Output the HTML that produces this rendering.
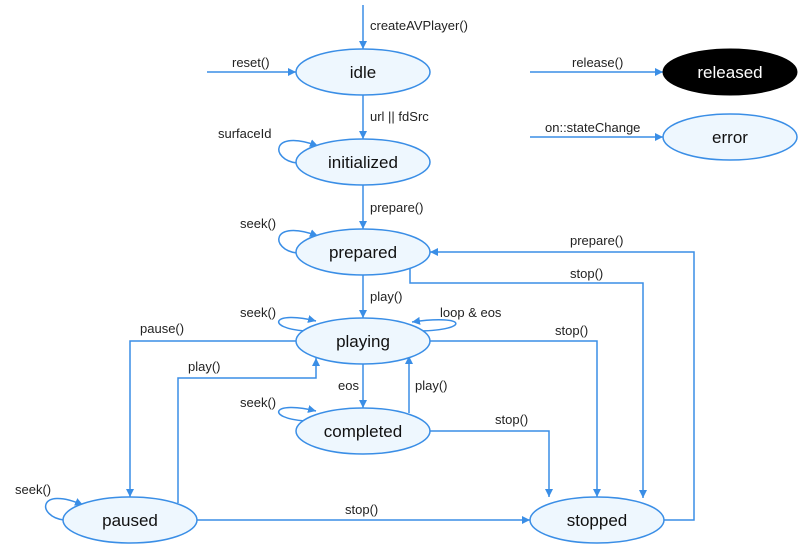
<!DOCTYPE html>
<html><head><meta charset="utf-8"><style>
html,body{margin:0;padding:0;background:#fff;}
svg{display:block;font-family:"Liberation Sans",sans-serif;}
.e{fill:#eef7fe;stroke:#3a8ee6;stroke-width:1.5;}
.l{fill:none;stroke:#3a8ee6;stroke-width:1.5;}
.n{font-size:17px;fill:#111;text-anchor:middle;}
.t{font-size:13px;fill:#222;}
</style></head><body>
<svg width="801" height="551" viewBox="0 0 801 551" xmlns="http://www.w3.org/2000/svg">
<defs><marker id="a" viewBox="0 0 10 10" refX="10" refY="5" markerWidth="8" markerHeight="8" markerUnits="userSpaceOnUse" orient="auto"><path d="M0,0L10,5L0,10z" fill="#3a8ee6"/></marker></defs>
<g class="l" marker-end="url(#a)">
<path d="M363,5V49"/>
<path d="M207,72H296"/>
<path d="M363,95V139"/>
<path d="M297,163C270,160 270,128 318,146"/>
<path d="M363,185V229"/>
<path d="M297,253C270,250 270,218 318,236"/>
<path d="M363,275V318"/>
<path d="M305,331C265,328 272,310 316,321"/>
<path d="M420,331C470,330 468,314 412,322"/>
<path d="M363,364V408"/>
<path d="M409,413V356"/>
<path d="M305,421C265,418 272,400 316,411"/>
<path d="M297,341H130V497"/>
<path d="M178,503V378H316V358"/>
<path d="M64,520C37,517 37,485 83,505"/>
<path d="M197,520H530"/>
<path d="M430,431H549V497"/>
<path d="M430,341H597V497"/>
<path d="M410,268V283H643V498"/>
<path d="M664,520H694V252H430"/>
<path d="M530,72H663"/>
<path d="M530,137H663"/>
</g>
<ellipse class="e" cx="363" cy="72" rx="67" ry="23"/>
<ellipse class="e" cx="363" cy="162" rx="67" ry="23"/>
<ellipse class="e" cx="363" cy="252" rx="67" ry="23"/>
<ellipse class="e" cx="363" cy="341" rx="67" ry="23"/>
<ellipse class="e" cx="363" cy="431" rx="67" ry="23"/>
<ellipse class="e" cx="130" cy="520" rx="67" ry="23"/>
<ellipse class="e" cx="597" cy="520" rx="67" ry="23"/>
<ellipse cx="730" cy="72" rx="67" ry="23" fill="#000" stroke="#000"/>
<ellipse class="e" cx="730" cy="137" rx="67" ry="23"/>
<text class="n" x="363" y="78">idle</text>
<text class="n" x="363" y="168">initialized</text>
<text class="n" x="363" y="258">prepared</text>
<text class="n" x="363" y="347">playing</text>
<text class="n" x="363" y="437">completed</text>
<text class="n" x="130" y="526">paused</text>
<text class="n" x="597" y="526">stopped</text>
<text class="n" x="730" y="78" style="fill:#fff">released</text>
<text class="n" x="730" y="143">error</text>
<text class="t" x="370" y="30">createAVPlayer()</text>
<text class="t" x="232" y="67">reset()</text>
<text class="t" x="370" y="121">url || fdSrc</text>
<text class="t" x="218" y="138">surfaceId</text>
<text class="t" x="370" y="212">prepare()</text>
<text class="t" x="240" y="228">seek()</text>
<text class="t" x="370" y="301">play()</text>
<text class="t" x="240" y="317">seek()</text>
<text class="t" x="440" y="317">loop &amp; eos</text>
<text class="t" x="140" y="333">pause()</text>
<text class="t" x="188" y="371">play()</text>
<text class="t" x="338" y="390">eos</text>
<text class="t" x="415" y="390">play()</text>
<text class="t" x="240" y="407">seek()</text>
<text class="t" x="495" y="424">stop()</text>
<text class="t" x="555" y="335">stop()</text>
<text class="t" x="570" y="278">stop()</text>
<text class="t" x="570" y="245">prepare()</text>
<text class="t" x="15" y="494">seek()</text>
<text class="t" x="345" y="514">stop()</text>
<text class="t" x="572" y="67">release()</text>
<text class="t" x="545" y="132">on::stateChange</text>
</svg>
</body></html>
